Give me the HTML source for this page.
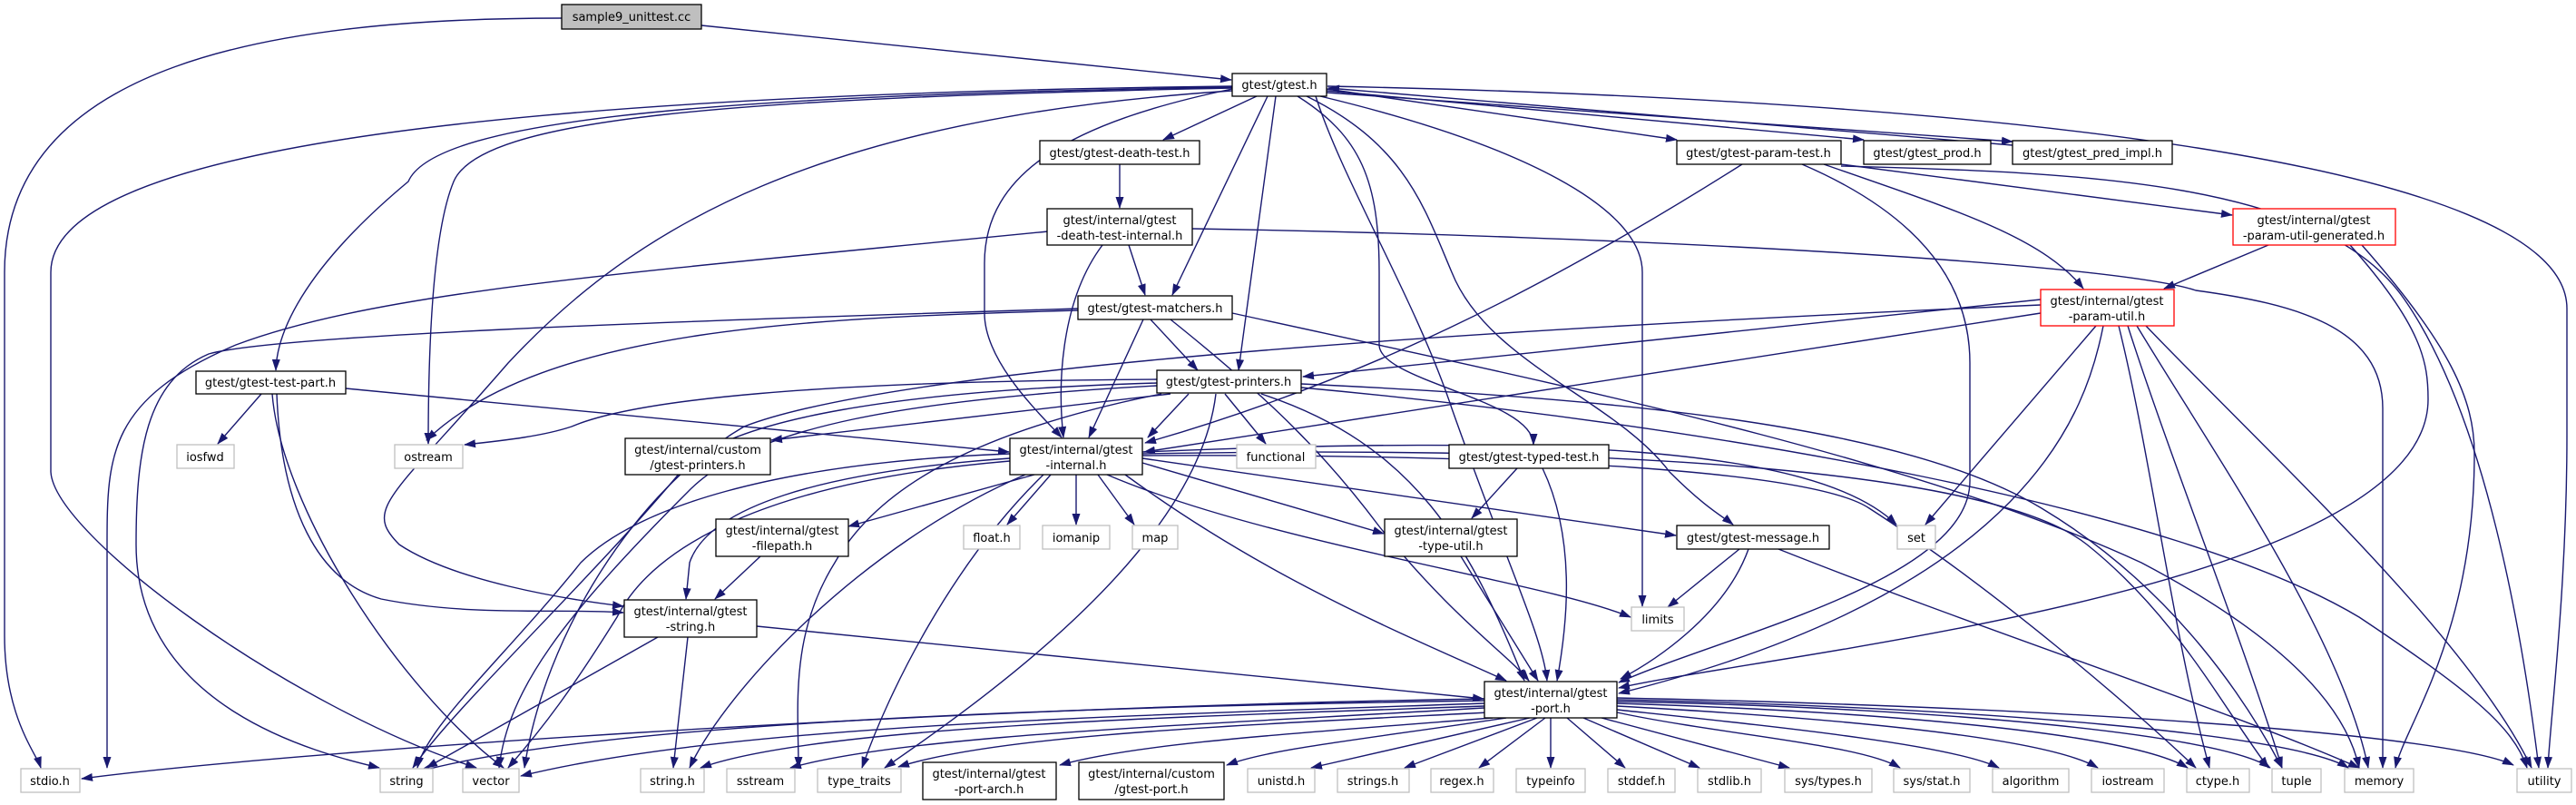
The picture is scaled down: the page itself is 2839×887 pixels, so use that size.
<!DOCTYPE html>
<html><head><meta charset="utf-8"><style>
html,body{margin:0;padding:0;background:#fff;}
svg{display:block;}
text{font-family:"DejaVu Sans","Liberation Sans",sans-serif;font-size:13px;fill:#000;text-anchor:middle;}
.n{fill:#fff;stroke:#000;stroke-width:1.3;}
.g{fill:#fff;stroke:#bfbfbf;stroke-width:1.3;}
.r{fill:#fff;stroke:#ff0000;stroke-width:1.3;}
.e path{fill:none;stroke:#191970;stroke-width:1.4;marker-end:url(#a);}
</style></head><body>
<svg width="2839" height="887" viewBox="0 0 2839 887" xmlns="http://www.w3.org/2000/svg">
<defs><marker id="a" viewBox="0 0 13 10" refX="12" refY="5" markerWidth="13" markerHeight="10" orient="auto" markerUnits="userSpaceOnUse"><path d="M0,0.5 L13,5 L0,9.5 z" fill="#191970"/></marker></defs>
<g class="e">
<path d="M619,20 C300,20 5,70 5,300 L5,700 C5,790 40,830 45,846"/>
<path d="M773,28 L1357,88"/>
<path d="M1385,106 L1282,154"/>
<path d="M1397,106 L1292,325"/>
<path d="M1406,106 L1365,408"/>
<path d="M1358,98 C1180,135 1085,190 1085,290 L1085,345 C1085,400 1150,460 1170,482"/>
<path d="M1358,96 C800,105 480,130 450,200 C330,300 305,370 304,408"/>
<path d="M1358,97 C800,108 530,130 500,200 C475,260 472,400 472,489"/>
<path d="M1358,95 C500,105 56,170 56,300 L56,520 C60,590 320,780 525,846"/>
<path d="M1358,100 C900,130 700,250 560,400 C430,550 400,560 440,600 C500,640 620,660 687,668"/>
<path d="M1430,106 C1500,150 1520,200 1520,300 L1520,380 C1520,420 1690,440 1690,490"/>
<path d="M1440,106 C1550,160 1570,230 1600,300 C1640,400 1780,440 1840,520 C1880,560 1900,570 1910,578"/>
<path d="M1455,106 C1680,160 1810,230 1810,300 L1810,668"/>
<path d="M1462,98 L1848,154"/>
<path d="M1462,100 L2054,154"/>
<path d="M1462,102 L2218,156"/>
<path d="M2218,160 L1464,97"/>
<path d="M1463,95 C2200,110 2829,180 2829,340 L2829,480 C2829,650 2810,800 2808,846"/>
<path d="M1450,106 C1480,200 1560,330 1600,450 C1660,620 1700,700 1705,750"/>
<path d="M1234,181 L1234,229"/>
<path d="M1155,255 C700,300 420,320 260,380 C120,440 118,500 118,600 L118,846"/>
<path d="M1244,270 L1262,325"/>
<path d="M1215,270 C1170,330 1165,420 1172,482"/>
<path d="M1314,252 C1800,260 2330,290 2420,320 C2530,335 2626,360 2626,450 L2626,846"/>
<path d="M1268,352 L1320,408"/>
<path d="M1188,342 C900,350 600,360 470,485"/>
<path d="M1188,340 C700,355 300,370 230,390 C160,420 150,500 150,600 C150,780 350,830 418,846"/>
<path d="M1260,352 L1200,482"/>
<path d="M1290,352 C1400,440 1460,500 1520,580 C1600,680 1660,720 1685,750"/>
<path d="M1358,345 C1700,420 2100,500 2360,620 C2550,720 2590,800 2600,846"/>
<path d="M288,434 L240,489"/>
<path d="M300,434 C310,560 440,760 555,846"/>
<path d="M305,434 C310,560 350,640 420,660 C520,680 620,670 687,675"/>
<path d="M381,428 L1112,498"/>
<path d="M1275,418 C900,420 700,440 630,470 C600,480 560,485 512,490"/>
<path d="M1275,422 C1000,430 800,460 750,520 C650,640 500,780 455,846"/>
<path d="M1275,425 C1000,440 830,470 760,540 C620,680 560,760 550,846"/>
<path d="M1290,434 L850,485"/>
<path d="M1310,434 L1265,482"/>
<path d="M1350,434 L1395,489"/>
<path d="M1340,434 C1320,600 1100,760 975,846"/>
<path d="M1280,434 C1050,480 960,550 920,620 C870,700 880,780 880,846"/>
<path d="M1390,434 C1560,490 1620,600 1680,750"/>
<path d="M1434,423 C1800,440 2100,470 2250,560 C2400,650 2480,780 2515,846"/>
<path d="M1434,427 C1900,470 2400,560 2600,680 C2720,760 2770,800 2785,846"/>
<path d="M1920,181 C1700,320 1500,420 1262,488"/>
<path d="M1986,181 C2100,230 2171,300 2171,400 L2171,530 C2171,640 1900,700 1784,752"/>
<path d="M2010,181 C2150,230 2250,260 2296,318"/>
<path d="M2029,181 L2460,237"/>
<path d="M2029,183 C2300,190 2560,200 2650,330 C2740,460 2780,700 2798,846"/>
<path d="M2500,270 L2385,318"/>
<path d="M2590,270 C2670,360 2676,400 2676,440 C2676,650 1950,720 1784,758"/>
<path d="M2603,270 C2700,380 2727,440 2727,500 C2727,700 2650,800 2640,846"/>
<path d="M2249,330 L1436,415"/>
<path d="M2249,345 L1261,498"/>
<path d="M2249,336 C1700,360 1000,400 820,470 C700,540 600,700 578,846"/>
<path d="M2310,359 L2122,578"/>
<path d="M2318,359 C2300,450 2240,650 1784,764"/>
<path d="M2335,359 C2370,500 2395,700 2435,846"/>
<path d="M2345,359 C2390,500 2470,700 2515,846"/>
<path d="M2355,359 C2440,500 2580,700 2610,846"/>
<path d="M2365,359 C2500,500 2720,700 2790,846"/>
<path d="M1140,523 L935,580"/>
<path d="M1113,505 C900,520 780,560 760,620 L756,660"/>
<path d="M1158,523 L1110,578"/>
<path d="M1186,523 L1186,578"/>
<path d="M1210,523 L1250,578"/>
<path d="M1113,500 C850,510 700,560 640,620 C560,720 470,800 460,846"/>
<path d="M1113,508 C850,530 720,600 680,680 C630,760 600,800 560,846"/>
<path d="M1130,523 C950,600 800,760 760,846"/>
<path d="M1150,523 C1050,620 980,760 950,846"/>
<path d="M1259,510 L1525,588"/>
<path d="M1259,505 L1847,590"/>
<path d="M1259,498 C1700,480 2000,490 2090,578"/>
<path d="M1220,523 C1400,600 1700,640 1797,680"/>
<path d="M1240,523 C1400,640 1550,700 1660,750"/>
<path d="M1259,502 C1700,500 2000,520 2060,560 C2200,650 2350,780 2420,846"/>
<path d="M1259,500 C1800,490 2200,520 2300,600 C2400,680 2450,780 2500,846"/>
<path d="M838,613 L788,660"/>
<path d="M725,702 L470,846"/>
<path d="M758,702 L742,846"/>
<path d="M834,690 L1635,770"/>
<path d="M1672,516 L1622,571"/>
<path d="M1700,516 C1740,600 1725,700 1716,750"/>
<path d="M1610,613 L1695,750"/>
<path d="M1917,605 L1838,669"/>
<path d="M1927,605 C1900,680 1820,730 1786,748"/>
<path d="M1960,605 C2200,700 2450,780 2600,846"/>
<path d="M1636,770 C1000,780 300,830 90,858"/>
<path d="M1636,772 C1100,780 650,800 462,850"/>
<path d="M1636,775 C1200,790 800,800 574,855"/>
<path d="M1636,778 C1300,790 900,800 772,846"/>
<path d="M1636,780 C1300,800 1000,810 871,846"/>
<path d="M1640,785 C1350,800 1100,810 990,845"/>
<path d="M1645,791 C1400,810 1250,820 1168,843"/>
<path d="M1660,791 C1500,815 1400,825 1352,843"/>
<path d="M1686,791 L1445,846"/>
<path d="M1694,791 L1548,846"/>
<path d="M1703,791 L1630,846"/>
<path d="M1709,791 L1709,846"/>
<path d="M1727,791 L1791,846"/>
<path d="M1745,791 L1873,846"/>
<path d="M1765,791 L1972,846"/>
<path d="M1782,785 C1900,810 2050,820 2094,846"/>
<path d="M1782,782 C1950,800 2150,820 2203,846"/>
<path d="M1782,778 C2000,790 2250,810 2312,846"/>
<path d="M1782,775 C2100,785 2350,810 2411,846"/>
<path d="M1782,773 C2150,780 2450,810 2502,846"/>
<path d="M1782,771 C2200,780 2530,810 2588,846"/>
<path d="M1782,769 C2300,780 2700,810 2770,843"/>
</g>
<rect x="619" y="5" width="154" height="27" fill="#bfbfbf" stroke="#000" stroke-width="1.3"/><text x="696" y="23">sample9_unittest.cc</text>
<rect class="n" x="1358" y="81" width="104" height="25"/><text x="1410" y="98">gtest/gtest.h</text>
<rect class="n" x="1146" y="155" width="176" height="26"/><text x="1234" y="173">gtest/gtest-death-test.h</text>
<rect class="n" x="1154" y="230" width="160" height="40"/><text x="1234" y="247">gtest/internal/gtest</text><text x="1234" y="264">-death-test-internal.h</text>
<rect class="n" x="1188" y="326" width="170" height="26"/><text x="1273" y="344">gtest/gtest-matchers.h</text>
<rect class="n" x="216" y="409" width="165" height="25"/><text x="298" y="426">gtest/gtest-test-part.h</text>
<rect class="n" x="1275" y="408" width="159" height="25"/><text x="1354" y="425">gtest/gtest-printers.h</text>
<rect class="n" x="1848" y="155" width="181" height="26"/><text x="1938" y="173">gtest/gtest-param-test.h</text>
<rect class="n" x="2054" y="155" width="140" height="26"/><text x="2124" y="173">gtest/gtest_prod.h</text>
<rect class="n" x="2218" y="155" width="176" height="26"/><text x="2306" y="173">gtest/gtest_pred_impl.h</text>
<rect class="r" x="2461" y="230" width="179" height="40"/><text x="2550" y="247">gtest/internal/gtest</text><text x="2550" y="264">-param-util-generated.h</text>
<rect class="r" x="2249" y="319" width="147" height="40"/><text x="2322" y="336">gtest/internal/gtest</text><text x="2322" y="353">-param-util.h</text>
<rect class="g" x="195" y="490" width="63" height="26"/><text x="226" y="508">iosfwd</text>
<rect class="g" x="435" y="490" width="75" height="26"/><text x="472" y="508">ostream</text>
<rect class="n" x="689" y="483" width="160" height="40"/><text x="769" y="500">gtest/internal/custom</text><text x="769" y="517">/gtest-printers.h</text>
<rect class="n" x="1113" y="483" width="146" height="40"/><text x="1186" y="500">gtest/internal/gtest</text><text x="1186" y="517">-internal.h</text>
<rect class="g" x="1363" y="490" width="87" height="26"/><text x="1406" y="508">functional</text>
<rect class="n" x="1597" y="490" width="176" height="26"/><text x="1685" y="508">gtest/gtest-typed-test.h</text>
<rect class="n" x="789" y="572" width="146" height="41"/><text x="862" y="589">gtest/internal/gtest</text><text x="862" y="606">-filepath.h</text>
<rect class="g" x="1062" y="579" width="62" height="26"/><text x="1093" y="597">float.h</text>
<rect class="g" x="1149" y="579" width="74" height="26"/><text x="1186" y="597">iomanip</text>
<rect class="g" x="1248" y="579" width="50" height="26"/><text x="1273" y="597">map</text>
<rect class="n" x="1526" y="572" width="146" height="41"/><text x="1599" y="589">gtest/internal/gtest</text><text x="1599" y="606">-type-util.h</text>
<rect class="n" x="1848" y="579" width="168" height="26"/><text x="1932" y="597">gtest/gtest-message.h</text>
<rect class="g" x="2091" y="579" width="42" height="26"/><text x="2112" y="597">set</text>
<rect class="g" x="1798" y="669" width="58" height="26"/><text x="1827" y="687">limits</text>
<rect class="n" x="688" y="661" width="146" height="41"/><text x="761" y="678">gtest/internal/gtest</text><text x="761" y="695">-string.h</text>
<rect class="n" x="1636" y="751" width="146" height="40"/><text x="1709" y="768">gtest/internal/gtest</text><text x="1709" y="785">-port.h</text>
<rect class="g" x="23" y="847" width="65" height="26"/><text x="55" y="865">stdio.h</text>
<rect class="g" x="419" y="847" width="58" height="26"/><text x="448" y="865">string</text>
<rect class="g" x="510" y="847" width="62" height="26"/><text x="541" y="865">vector</text>
<rect class="g" x="706" y="847" width="70" height="26"/><text x="741" y="865">string.h</text>
<rect class="g" x="801" y="847" width="75" height="26"/><text x="838" y="865">sstream</text>
<rect class="g" x="901" y="847" width="92" height="26"/><text x="947" y="865">type_traits</text>
<rect class="n" x="1017" y="840" width="147" height="41"/><text x="1090" y="857">gtest/internal/gtest</text><text x="1090" y="874">-port-arch.h</text>
<rect class="n" x="1189" y="840" width="160" height="41"/><text x="1269" y="857">gtest/internal/custom</text><text x="1269" y="874">/gtest-port.h</text>
<rect class="g" x="1375" y="847" width="74" height="26"/><text x="1412" y="865">unistd.h</text>
<rect class="g" x="1474" y="847" width="79" height="26"/><text x="1513" y="865">strings.h</text>
<rect class="g" x="1577" y="847" width="69" height="26"/><text x="1611" y="865">regex.h</text>
<rect class="g" x="1671" y="847" width="76" height="26"/><text x="1709" y="865">typeinfo</text>
<rect class="g" x="1772" y="847" width="74" height="26"/><text x="1809" y="865">stddef.h</text>
<rect class="g" x="1871" y="847" width="70" height="26"/><text x="1906" y="865">stdlib.h</text>
<rect class="g" x="1967" y="847" width="96" height="26"/><text x="2015" y="865">sys/types.h</text>
<rect class="g" x="2087" y="847" width="84" height="26"/><text x="2129" y="865">sys/stat.h</text>
<rect class="g" x="2196" y="847" width="84" height="26"/><text x="2238" y="865">algorithm</text>
<rect class="g" x="2305" y="847" width="80" height="26"/><text x="2345" y="865">iostream</text>
<rect class="g" x="2410" y="847" width="69" height="26"/><text x="2444" y="865">ctype.h</text>
<rect class="g" x="2504" y="847" width="54" height="26"/><text x="2531" y="865">tuple</text>
<rect class="g" x="2584" y="847" width="76" height="26"/><text x="2622" y="865">memory</text>
<rect class="g" x="2774" y="847" width="60" height="26"/><text x="2804" y="865">utility</text>
</svg>
</body></html>
